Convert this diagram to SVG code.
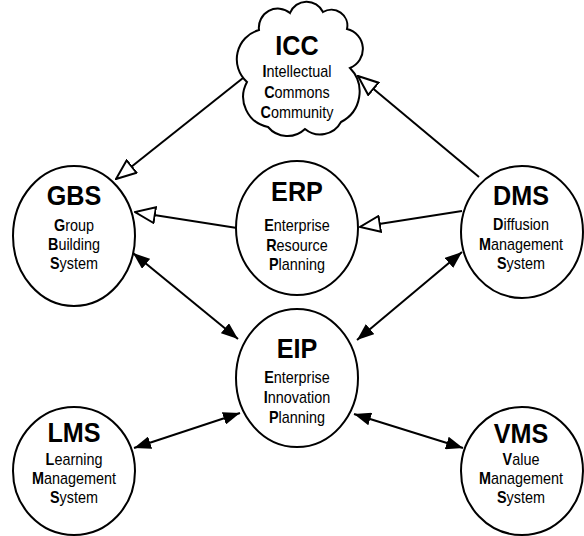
<svg xmlns="http://www.w3.org/2000/svg" width="584" height="536" viewBox="0 0 584 536">
<style>
.node{fill:#fff;stroke:#000;stroke-width:2}
.t{font-family:"Liberation Sans",Arial,sans-serif;font-weight:bold;font-size:28px;text-anchor:middle;fill:#000}
.s{font-family:"Liberation Sans",Arial,sans-serif;font-size:16px;text-anchor:middle;fill:#000}
.s tspan.b{font-weight:bold}
.c{fill:none;stroke:#000;stroke-width:2}
.h{marker-end:url(#hollow)}
.d{marker-start:url(#solid);marker-end:url(#solid)}
</style>
<defs>
<marker id="hollow" markerUnits="userSpaceOnUse" viewBox="0 0 22 18" refX="21" refY="9" markerWidth="22" markerHeight="18" orient="auto">
<path d="M1,1 L21,9 L1,17 Z" fill="#fff" stroke="#000" stroke-width="2" stroke-linejoin="miter"/>
</marker>
<marker id="solid" markerUnits="userSpaceOnUse" viewBox="0 0 17 13" refX="17" refY="6.5" markerWidth="17" markerHeight="13" orient="auto-start-reverse">
<path d="M0,0 L17,6.5 L0,13 Z" fill="#000"/>
</marker>
</defs>
<rect width="584" height="536" fill="#fff"/>
<g id="connectors">
<line class="c h" x1="243" y1="78" x2="116" y2="179"/>
<line class="c h" x1="237" y1="228" x2="135" y2="212"/>
<line class="c h" x1="479" y1="177" x2="358" y2="76"/>
<line class="c h" x1="462" y1="211" x2="360" y2="227"/>
<line class="c d" x1="133" y1="253" x2="238" y2="339"/>
<line class="c d" x1="462" y1="252" x2="357" y2="340"/>
<line class="c d" x1="134" y1="448" x2="240" y2="413"/>
<line class="c d" x1="463" y1="448" x2="354" y2="414"/>
</g>
<g id="ICC">
<path class="node" d="M247,82 A30.4,30.4 0 0 1 259,30 A19,19 0 0 1 290,13 A18,18 0 0 1 323,12 A16,16 0 0 1 347,29 A20.5,20.5 0 0 1 350,68 A34,34 0 0 1 341,122 A23.7,23.7 0 0 1 305,129 A25.4,25.4 0 0 1 268,127 A30.8,30.8 0 0 1 247,82 Z"/>
<text class="t" transform="translate(297 55) scale(.9 1)">ICC</text>
<text class="s" transform="translate(297 77) scale(.9 1)"><tspan class="b">I</tspan>ntellectual</text>
<text class="s" transform="translate(297 98) scale(.9 1)"><tspan class="b">C</tspan>ommons</text>
<text class="s" transform="translate(297 118) scale(.9 1)"><tspan class="b">C</tspan>ommunity</text>
</g>
<g id="GBS">
<ellipse class="node" cx="74" cy="236" rx="61" ry="70"/>
<text class="t" transform="translate(74 205) scale(.9 1)">GBS</text>
<text class="s" transform="translate(74 231) scale(.9 1)"><tspan class="b">G</tspan>roup</text>
<text class="s" transform="translate(74 250) scale(.9 1)"><tspan class="b">B</tspan>uilding</text>
<text class="s" transform="translate(74 269) scale(.9 1)"><tspan class="b">S</tspan>ystem</text>
</g>
<g id="ERP">
<ellipse class="node" cx="297" cy="228" rx="61" ry="67"/>
<text class="t" transform="translate(297 201) scale(.9 1)">ERP</text>
<text class="s" transform="translate(297 231) scale(.9 1)"><tspan class="b">E</tspan>nterprise</text>
<text class="s" transform="translate(297 251) scale(.9 1)"><tspan class="b">R</tspan>esource</text>
<text class="s" transform="translate(297 270) scale(.9 1)"><tspan class="b">P</tspan>lanning</text>
</g>
<g id="DMS">
<ellipse class="node" cx="522" cy="232" rx="61" ry="66"/>
<text class="t" transform="translate(521 205) scale(.9 1)">DMS</text>
<text class="s" transform="translate(521 230) scale(.9 1)"><tspan class="b">D</tspan>iffusion</text>
<text class="s" transform="translate(521 250) scale(.9 1)"><tspan class="b">M</tspan>anagement</text>
<text class="s" transform="translate(521 269) scale(.9 1)"><tspan class="b">S</tspan>ystem</text>
</g>
<g id="EIP">
<ellipse class="node" cx="297" cy="378" rx="61" ry="69"/>
<text class="t" transform="translate(297 358) scale(.9 1)">EIP</text>
<text class="s" transform="translate(297 383) scale(.9 1)"><tspan class="b">E</tspan>nterprise</text>
<text class="s" transform="translate(297 403) scale(.9 1)"><tspan class="b">I</tspan>nnovation</text>
<text class="s" transform="translate(297 423) scale(.9 1)"><tspan class="b">P</tspan>lanning</text>
</g>
<g id="LMS">
<ellipse class="node" cx="74" cy="471" rx="61" ry="64"/>
<text class="t" transform="translate(74 442) scale(.9 1)">LMS</text>
<text class="s" transform="translate(74 465) scale(.9 1)"><tspan class="b">L</tspan>earning</text>
<text class="s" transform="translate(74 484) scale(.9 1)"><tspan class="b">M</tspan>anagement</text>
<text class="s" transform="translate(74 503) scale(.9 1)"><tspan class="b">S</tspan>ystem</text>
</g>
<g id="VMS">
<ellipse class="node" cx="522" cy="471" rx="61" ry="64"/>
<text class="t" transform="translate(521 443) scale(.9 1)">VMS</text>
<text class="s" transform="translate(521 465) scale(.9 1)"><tspan class="b">V</tspan>alue</text>
<text class="s" transform="translate(521 484) scale(.9 1)"><tspan class="b">M</tspan>anagement</text>
<text class="s" transform="translate(521 503) scale(.9 1)"><tspan class="b">S</tspan>ystem</text>
</g>
</svg>
